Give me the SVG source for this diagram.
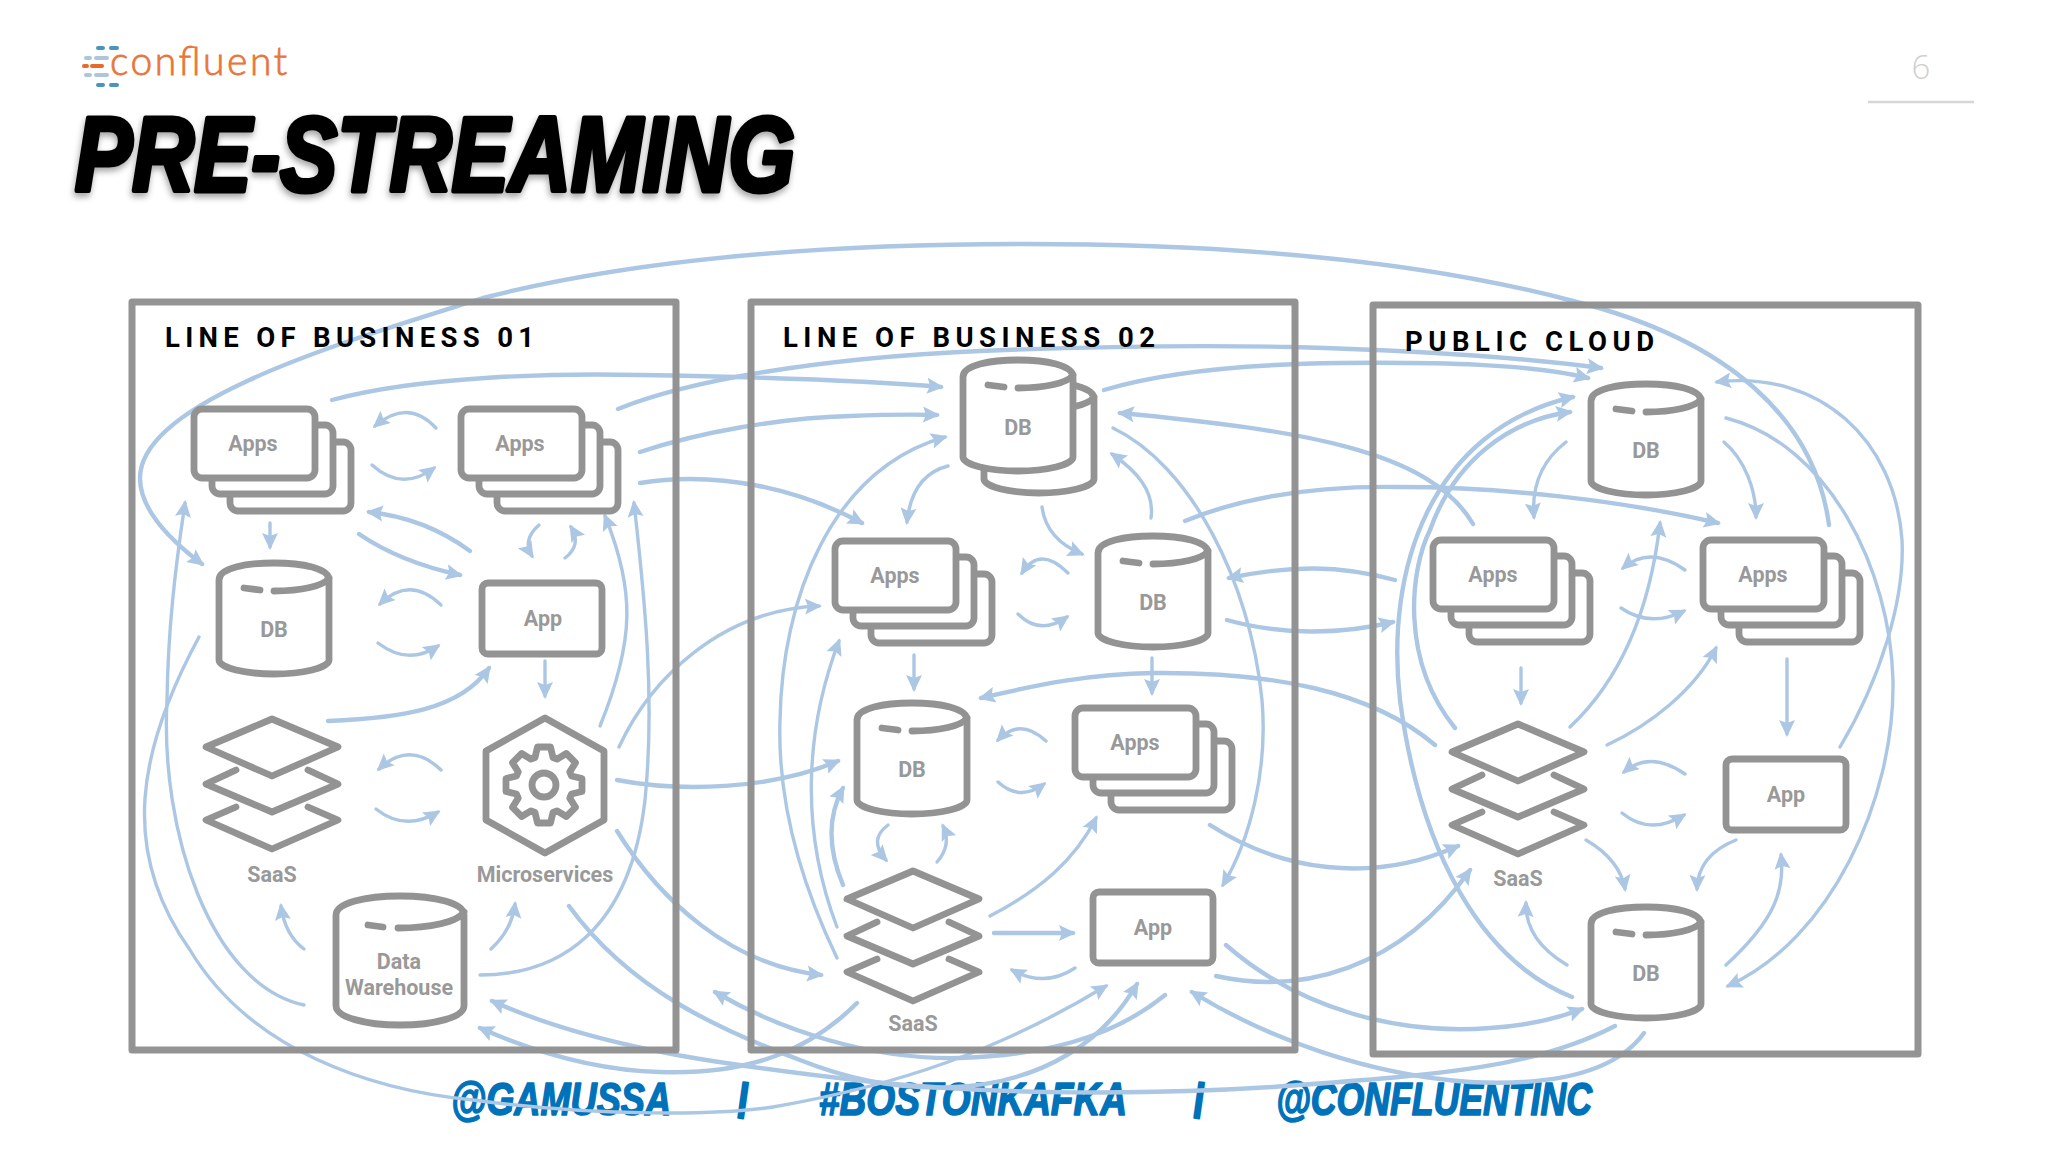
<svg xmlns="http://www.w3.org/2000/svg" xmlns:xlink="http://www.w3.org/1999/xlink" width="2048" height="1152" viewBox="0 0 2048 1152">
<style>
.box{fill:none;stroke:#939393;stroke-width:7;stroke-linejoin:round}
.n{fill:#fff;stroke:#939393;stroke-width:6.8;stroke-linejoin:round;stroke-linecap:round}
.o{fill:none;stroke:#939393;stroke-width:6.8;stroke-linejoin:round;stroke-linecap:round}
.lb{font-family:Roboto,"Liberation Sans",sans-serif;font-weight:700;font-size:21.5px;fill:#999;text-anchor:middle}
.sec{font-family:Roboto,"Liberation Sans",Arial,sans-serif;font-weight:700;font-size:27.5px;fill:#000}
.ft{font-family:"Liberation Sans",Arial,sans-serif;font-weight:700;font-style:italic;font-size:46px;fill:#0072ba;stroke:#0072ba;stroke-width:1.6;stroke-linejoin:round}
.bar{font-family:"Liberation Sans",Arial,sans-serif;font-weight:700;font-size:38px;fill:#0072ba;stroke:#0072ba;stroke-width:2;stroke-linejoin:round}
.tt{font-family:"Liberation Sans",Arial,sans-serif;font-weight:700;font-style:italic;font-size:106px;fill:#000;stroke:#000;stroke-width:5;stroke-linejoin:round;filter:url(#sh)}
#connectors path{fill:none;stroke:#acc7e4;stroke-width:3.4;stroke-linecap:round;marker-end:url(#ah)}
#connectors path.t{stroke-width:4.4}
</style>
<defs>
<filter id="sh" x="-5%" y="-20%" width="110%" height="150%"><feDropShadow dx="-1" dy="4" stdDeviation="3" flood-color="#000" flood-opacity=".35"/></filter>
<marker id="ah" markerUnits="userSpaceOnUse" markerWidth="19" markerHeight="19" refX="14" refY="9.5" orient="auto"><path d="M0,1.5 L17,9.5 L0,17.5 L3,9.5 Z" fill="#acc7e4"/></marker>
<g id="stack">
<rect class="n" x="39" y="36" width="121" height="69" rx="8"/>
<rect class="n" x="21" y="19" width="121" height="69" rx="8"/>
<rect class="n" x="3" y="3" width="121" height="69" rx="8"/>
</g>
<g id="db">
<path class="n" d="M3,20 C3,8 30,3 58,3 C86,3 113,8 113,20 V100 C113,108 86,114 58,114 C30,114 3,108 3,100 Z"/>
<path class="o" d="M28,28 L44,30 M58,31 C85,31 108,26 113,18"/>
</g>
<g id="saas">
<path class="n" d="M0,4 L66,32 L0,61 L-66,32 Z"/>
<path class="o" d="M-36,55 L-66,69 L0,97 L66,69 L36,55"/>
<path class="o" d="M-36,92 L-66,105 L0,134 L66,105 L36,92"/>
</g>
</defs>

<g id="logo">
<g fill="none" stroke-width="4" stroke-linecap="round">
<path stroke="#4b95bd" d="M98,48 H103 M111,48 H117 M98,85 H103 M111,85 H117"/>
<path stroke="#aec6dc" d="M86,58 H90 M96,58 H107 M86,75 H90 M96,75 H107"/>
<path stroke="#e8692c" d="M84,66 H87 M92,66 H102"/>
</g>
<text x="110" y="75" font-family="Lato,'Open Sans',sans-serif" font-weight="300" font-size="39" fill="#e8763a" stroke="#e8763a" stroke-width=".8" textLength="177">confluent</text>
</g>
<g id="page-number">
<text x="1921" y="79" font-family="'Open Sans',Roboto,sans-serif" font-weight="300" font-size="33" fill="#cfcfcf" text-anchor="middle">6</text>
<path d="M1868,102 H1974" stroke="#d6d6d6" stroke-width="2.5" fill="none"/>
</g>
<text class="tt" x="75" y="191" textLength="720" lengthAdjust="spacingAndGlyphs">PRE-STREAMING</text>

<g id="footer">
<text class="ft" x="451" y="1115" textLength="220" lengthAdjust="spacingAndGlyphs">@GAMUSSA</text>
<text class="bar" x="738" y="1110" transform="rotate(8 745 1098)">|</text>
<text class="ft" x="819" y="1115" textLength="308" lengthAdjust="spacingAndGlyphs">#BOSTONKAFKA</text>
<text class="bar" x="1194" y="1110" transform="rotate(8 1201 1098)">|</text>
<text class="ft" x="1276" y="1115" textLength="316" lengthAdjust="spacingAndGlyphs">@CONFLUENTINC</text>
</g>

<g id="connectors">
<path class="t" d="M1829,525 C1815,420 1730,340 1573,301 C1400,255 1200,244 1024,244 C850,244 650,255 483,298 C350,340 140,400 140,478 C140,510 170,540 202,564"/>
<path class="t" d="M332,400 C420,376 560,373 640,375 C760,377 860,380 941,387"/>
<path class="t" d="M618,409 C690,380 820,358 980,351 Q1150,344 1292,347 Q1480,352 1601,368"/>
<path class="t" d="M1104,390 C1170,370 1260,364 1340,363 C1440,362 1530,364 1588,378"/>
<path class="t" d="M640,452 C700,432 780,418 850,416 Q900,414 937,415"/>
<path class="t" d="M640,483 C720,470 800,490 862,523"/>
<path d="M837,958 C790,860 778,780 780,720 C782,600 830,470 945,437"/>
<path d="M837,927 C800,830 805,730 839,641"/>
<path class="t" d="M843,885 Q820,830 843,788"/>
<path d="M619,747 C650,680 720,610 819,606"/>
<path d="M480,975 C560,975 630,930 645,800 C655,700 645,600 634,503"/>
<path d="M600,726 C635,640 635,590 605,516"/>
<path class="t" d="M617,780 C680,792 770,790 838,761"/>
<path class="t" d="M617,831 C660,900 730,965 821,975"/>
<path class="t" d="M569,906 C630,990 720,1030 800,1060 C900,1100 1000,1095 1067,1055 Q1110,1030 1137,984"/>
<path class="t" d="M1615,1026 C1530,1070 1430,1075 1273,1087 C1150,1095 1000,1095 873,1082 C740,1067 600,1050 492,1001"/>
<path class="t" d="M1165,995 C1110,1040 1040,1055 960,1058 C870,1060 780,1030 715,992"/>
<path class="t" d="M1644,1033 C1610,1080 1530,1085 1470,1082 C1370,1075 1270,1040 1192,992"/>
<path class="t" d="M857,1003 C810,1050 750,1075 660,1072 C590,1070 530,1050 480,1028"/>
<path d="M199,637 C138,750 119,850 190,950 C250,1050 370,1090 473,1100 C600,1117 720,1115 773,1107 C900,1085 1000,1050 1106,986"/>
<path d="M304,1005 C210,985 160,830 167,700 C168,630 175,570 185,503"/>
<path class="t" d="M1226,945 C1300,1010 1400,1035 1490,1028 Q1540,1025 1582,1009"/>
<path class="t" d="M1216,976 C1300,995 1400,970 1470,870"/>
<path class="t" d="M1210,825 C1280,870 1370,885 1458,846"/>
<path class="t" d="M1435,745 C1370,690 1270,672 1153,673 C1090,674 1040,684 981,698"/>
<path d="M1113,428 C1190,465 1250,580 1262,700 C1268,770 1250,840 1223,885"/>
<path class="t" d="M1473,524 C1430,450 1300,430 1120,413"/>
<path class="t" d="M1185,521 C1260,490 1340,486 1400,487 C1500,487 1620,500 1718,523"/>
<path class="t" d="M1395,580 C1340,565 1290,565 1229,578"/>
<path class="t" d="M1227,620 C1280,635 1340,635 1393,622"/>
<path class="t" d="M1572,997 C1480,960 1420,850 1400,700 C1385,570 1430,430 1573,397"/>
<path class="t" d="M1455,728 C1400,660 1410,570 1430,530 C1455,460 1510,420 1570,412"/>
<path d="M1726,418 C1830,445 1890,570 1893,680 C1895,800 1830,940 1728,986"/>
<path d="M1840,747 C1880,680 1905,600 1902,540 C1895,440 1820,370 1717,382"/>
<path d="M1570,727 C1620,680 1650,610 1660,523"/>
<path d="M1607,745 C1650,725 1695,690 1716,648"/>
<path d="M1724,442 C1745,460 1756,490 1756,517"/>
<path d="M436,428 Q408,398 375,426"/>
<path d="M372,465 Q402,492 434,468"/>
<path d="M270,523 V547"/>
<path class="t" d="M470,551 Q425,518 369,512"/>
<path class="t" d="M359,534 Q400,562 460,575"/>
<path d="M539,525 Q522,540 532,556"/>
<path d="M565,558 Q582,545 571,527"/>
<path d="M441,605 Q410,575 380,604"/>
<path d="M378,643 Q408,666 438,646"/>
<path class="t" d="M328,721 C400,718 460,710 489,668"/>
<path d="M545,661 V696"/>
<path d="M441,770 Q410,740 379,769"/>
<path d="M376,809 Q405,832 438,812"/>
<path d="M304,949 Q285,935 281,906"/>
<path d="M491,949 Q512,930 515,904"/>
<path d="M888,825 Q868,840 886,860"/>
<path d="M937,862 Q952,845 943,826"/>
<path d="M914,655 V689"/>
<path d="M948,466 Q912,475 907,522"/>
<path d="M1068,573 Q1040,545 1022,573"/>
<path d="M1018,614 Q1040,636 1067,617"/>
<path d="M1046,741 Q1020,717 998,740"/>
<path d="M998,782 Q1020,802 1044,784"/>
<path d="M1042,507 C1045,530 1060,545 1082,554"/>
<path d="M1151,518 C1155,490 1135,470 1112,454"/>
<path d="M1152,658 V693"/>
<path class="t" d="M994,933 H1073"/>
<path d="M990,916 C1040,890 1075,860 1096,818"/>
<path d="M1075,968 Q1045,988 1012,970"/>
<path d="M1566,442 Q1530,470 1534,517"/>
<path d="M1521,668 V703"/>
<path d="M1685,570 Q1650,545 1623,568"/>
<path d="M1621,608 Q1650,628 1684,611"/>
<path d="M1787,659 V734"/>
<path d="M1685,774 Q1650,750 1624,772"/>
<path d="M1622,813 Q1650,836 1684,815"/>
<path d="M1586,840 Q1620,860 1625,889"/>
<path d="M1736,840 Q1698,855 1697,889"/>
<path d="M1726,965 C1775,920 1785,890 1781,855"/>
<path d="M1567,965 Q1525,940 1526,903"/>
</g>

<g id="lob1">
<rect class="box" x="132" y="302" width="544" height="748"/>
<text class="sec" x="165" y="347" textLength="369">LINE OF BUSINESS 01</text>
</g>
<g id="lob2">
<rect class="box" x="751" y="302" width="544" height="748"/>
<text class="sec" x="783" y="347" textLength="372">LINE OF BUSINESS 02</text>
</g>
<g id="cloud">
<rect class="box" x="1373" y="305" width="545" height="749"/>
<text class="sec" x="1405" y="351" textLength="249">PUBLIC CLOUD</text>
</g>

<g id="l1-apps1"><use href="#stack" x="191" y="406"/><text class="lb" x="253" y="451">Apps</text></g>
<g id="l1-apps2"><use href="#stack" x="458" y="406"/><text class="lb" x="520" y="451">Apps</text></g>
<g id="l1-db"><use href="#db" x="216" y="560"/><text class="lb" x="274" y="637">DB</text></g>
<g id="l1-app"><rect class="n" x="482" y="583" width="120" height="71" rx="6"/><text class="lb" x="543" y="626">App</text></g>
<g id="l1-saas"><use href="#saas" x="272" y="715"/><text class="lb" x="272" y="882">SaaS</text></g>
<g id="l1-micro">
<path class="n" d="M545,718 L604,751 V820 L545,853 L486,820 V751 Z"/>
<path class="o" d="M535,757.5 L537.5,747 H550.5 L553,757.5 L557.1,759.2 L566.3,753.5 L575.5,762.7 L569.8,771.9 L571.5,776 L582,778.5 V791.5 L571.5,794 L569.8,798.1 L575.5,807.3 L566.3,816.5 L557.1,810.8 L553,812.5 L550.5,823 H537.5 L535,812.5 L530.9,810.8 L521.7,816.5 L512.5,807.3 L518.2,798.1 L516.5,794 L506,791.5 V778.5 L516.5,776 L518.2,771.9 L512.5,762.7 L521.7,753.5 L530.9,759.2 Z"/>
<circle class="o" cx="544" cy="785" r="12"/>
<text class="lb" x="545" y="882">Microservices</text>
</g>
<g id="l1-dw">
<path class="n" d="M336,915 C336,903 365,896 400,896 C435,896 464,903 464,915 V1006 C464,1017 435,1025 400,1025 C365,1025 336,1017 336,1006 Z"/>
<path class="o" d="M368,925 L383,927 M398,928 C430,928 458,922 464,912"/>
<text class="lb" x="399" y="969">Data</text><text class="lb" x="399" y="995">Warehouse</text>
</g>

<g id="l2-db1"><use href="#db" x="981" y="379"/><use href="#db" x="960" y="357"/><text class="lb" x="1018" y="435">DB</text></g>
<g id="l2-apps1"><use href="#stack" x="832" y="538"/><text class="lb" x="895" y="583">Apps</text></g>
<g id="l2-db2"><use href="#db" x="1095" y="533"/><text class="lb" x="1153" y="610">DB</text></g>
<g id="l2-db3"><use href="#db" x="854" y="700"/><text class="lb" x="912" y="777">DB</text></g>
<g id="l2-apps2"><use href="#stack" x="1072" y="705"/><text class="lb" x="1135" y="750">Apps</text></g>
<g id="l2-saas"><use href="#saas" x="913" y="867"/><text class="lb" x="913" y="1031">SaaS</text></g>
<g id="l2-app"><rect class="n" x="1093" y="892" width="120" height="71" rx="6"/><text class="lb" x="1153" y="935">App</text></g>

<g id="c-db1"><use href="#db" x="1588" y="381"/><text class="lb" x="1646" y="458">DB</text></g>
<g id="c-apps1"><use href="#stack" x="1430" y="537"/><text class="lb" x="1493" y="582">Apps</text></g>
<g id="c-apps2"><use href="#stack" x="1700" y="537"/><text class="lb" x="1763" y="582">Apps</text></g>
<g id="c-saas"><use href="#saas" x="1518" y="720"/><text class="lb" x="1518" y="886">SaaS</text></g>
<g id="c-app"><rect class="n" x="1726" y="759" width="120" height="71" rx="6"/><text class="lb" x="1786" y="802">App</text></g>
<g id="c-db2"><use href="#db" x="1588" y="904"/><text class="lb" x="1646" y="981">DB</text></g>
</svg>
